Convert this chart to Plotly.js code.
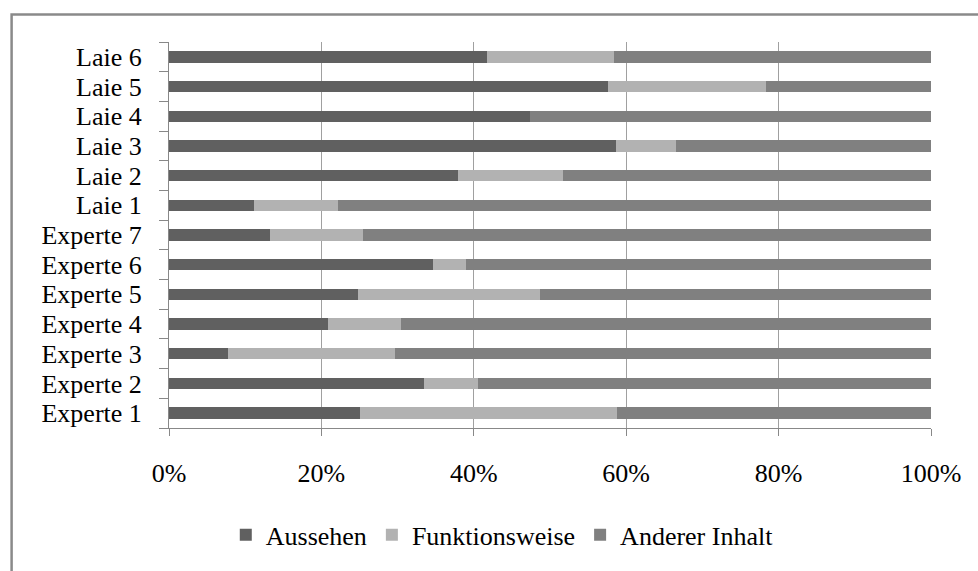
<!DOCTYPE html>
<html>
<head>
<meta charset="utf-8">
<script src="https://cdn.plot.ly/plotly-3.0.1.min.js"></script>
<style>html,body{margin:0;padding:0;background:#fff;}#chart{width:978px;height:571px;}</style>
</head>
<body>
<div id="chart"></div>
<script>
const categories = ["Experte 1","Experte 2","Experte 3","Experte 4","Experte 5","Experte 6","Experte 7","Laie 1","Laie 2","Laie 3","Laie 4","Laie 5","Laie 6"];
const aussehen        = [25.0, 33.5, 7.8, 20.8, 24.8, 34.7, 13.2, 11.1, 37.9, 58.6, 47.4, 57.6, 41.7];
const funktionsweise  = [33.8, 7.1, 21.9, 9.7, 23.9, 4.3, 12.2, 11.1, 13.8, 7.9, 0.0, 20.7, 16.7];
const andererInhalt   = [41.2, 59.4, 70.3, 69.5, 51.3, 61.0, 74.6, 77.8, 48.3, 33.5, 52.6, 21.7, 41.6];
const seriesNames = ["Aussehen", "Funktionsweise", "Anderer Inhalt"];
const xTickVals = [0, 20, 40, 60, 80, 100];
const xTickText = ["0%", "20%", "40%", "60%", "80%", "100%"];

const colors = ["#606060", "#b2b2b2", "#808080"];
const font = {family: "Liberation Serif, Times New Roman, serif", size: 26, color: "#000"};

const traces = [aussehen, funktionsweise, andererInhalt].map((vals, i) => ({
  type: "bar",
  orientation: "h",
  name: seriesNames[i],
  y: categories,
  x: vals,
  marker: {color: colors[i], line: {width: 0}},
  hoverinfo: "x+y+name"
}));

const L = 168.5, R = 931, T = 42, B = 434.3;
const pw = R - L, ph = B - T;
const px = v => (v - L) / pw;
const py = v => (B - v) / ph;

const layout = {
  width: 978, height: 571,
  margin: {l: L, r: 978 - R, t: T, b: 571 - B, pad: 0},
  paper_bgcolor: "#fff", plot_bgcolor: "#fff",
  barmode: "stack",
  bargap: 0.615,
  font: font,
  showlegend: true,
  legend: {
    orientation: "h",
    x: px(502), xanchor: "center",
    y: py(543), yanchor: "middle",
    font: font,
    itemwidth: 30,
    traceorder: "normal",
    bgcolor: "rgba(0,0,0,0)"
  },
  xaxis: {
    range: [0, 100],
    tickvals: xTickVals,
    ticktext: xTickText,
    showgrid: true, gridcolor: "#a0a0a0", gridwidth: 1,
    zeroline: false,
    showline: true, linecolor: "#888", linewidth: 1,
    ticks: "outside", ticklen: 7, tickcolor: "#888",
    ticklabelstandoff: 15,
    tickfont: font,
    fixedrange: true
  },
  yaxis: {
    type: "category",
    categoryorder: "array", categoryarray: categories,
    tickmode: "linear", tick0: 0, dtick: 1,
    showgrid: false, zeroline: false,
    showline: true, linecolor: "#888", linewidth: 1,
    ticks: "outside", ticklen: 9, tickcolor: "#888",
    tickson: "boundaries",
    ticklabelstandoff: 21,
    tickfont: font,
    fixedrange: true
  },
  shapes: [{
    type: "rect", xref: "paper", yref: "paper",
    x0: px(11), x1: px(1010), y0: py(620), y1: py(14),
    line: {color: "#8a8a8a", width: 2.5}, fillcolor: "rgba(0,0,0,0)", layer: "below"
  }]
};

Plotly.newPlot("chart", traces, layout, {displayModeBar: false, staticPlot: true});
</script>
</body>
</html>
